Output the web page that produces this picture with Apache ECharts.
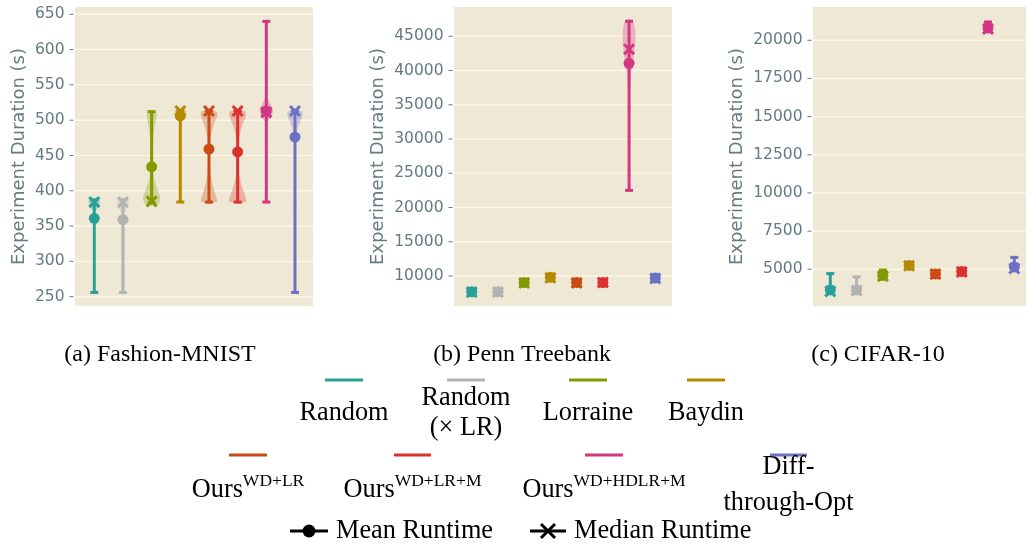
<!DOCTYPE html>
<html><head><meta charset="utf-8">
<script src="https://cdn.jsdelivr.net/npm/echarts@6/dist/echarts.min.js"></script>
<style>html,body{margin:0;padding:0;background:#fff}#c{width:1026px;height:544px}</style>
</head><body><div id="c"></div>
<script>
// ---------- data ----------
const methods = ['Random', 'Random (× LR)', 'Lorraine', 'Baydin', 'Ours WD+LR', 'Ours WD+LR+M', 'Ours WD+HDLR+M', 'Diff-through-Opt'];
const colors = ['#2aa198', '#b3b3b3', '#859900', '#b58900', '#cb4b16', '#dc322f', '#d33682', '#6c71c4'];

// (a) Fashion-MNIST
const fmnistMin    = [256, 256, 383, 384, 384, 384, 384, 256];
const fmnistMax    = [387, 387, 512, 513, 513, 513, 640, 513];
const fmnistMean   = [361, 359, 434, 506, 459, 455, 513, 476];
const fmnistMedian = [384, 384, 385, 513, 513, 513, 511, 513];
const fmnistTicks  = [250, 300, 350, 400, 450, 500, 550, 600, 650];
// violin outlines: [value, half-width in category units]
const fmnistViolin = [
  [[368, 0], [374, 0.1], [380, 0.18], [385, 0.2], [388, 0.16], [390, 0]],
  [[363, 0], [370, 0.08], [378, 0.17], [385, 0.2], [388, 0.16], [390, 0]],
  [[378, 0], [382, 0.25], [390, 0.3], [400, 0.22], [415, 0.1], [430, 0.04], [450, 0.03], [470, 0.05], [490, 0.1], [505, 0.17], [512, 0.15], [515, 0]],
  [[490, 0], [498, 0.06], [505, 0.18], [511, 0.22], [515, 0.15], [517, 0]],
  [[381, 0], [385, 0.28], [395, 0.22], [410, 0.12], [425, 0.05], [445, 0.03], [465, 0.03], [480, 0.08], [495, 0.18], [505, 0.28], [512, 0.28], [516, 0]],
  [[381, 0], [385, 0.3], [395, 0.24], [410, 0.12], [425, 0.05], [445, 0.03], [465, 0.03], [480, 0.08], [495, 0.18], [505, 0.28], [512, 0.28], [516, 0]],
  [[495, 0], [500, 0.08], [508, 0.2], [515, 0.24], [525, 0.12], [535, 0]],
  [[256, 0], [300, 0.01], [360, 0.02], [380, 0.05], [400, 0.02], [440, 0.02], [470, 0.03], [485, 0.07], [495, 0.15], [505, 0.25], [512, 0.26], [516, 0]]
];

// (b) Penn Treebank
const ptbMin    = [7500, 7500, 8850, 9550, 8850, 8900, 22500, 9500];
const ptbMax    = [7850, 7850, 9200, 10050, 9250, 9200, 47200, 9900];
const ptbMean   = [7700, 7700, 9050, 9800, 9050, 9050, 41050, 9700];
const ptbMedian = [7650, 7650, 9000, 9750, 9000, 9050, 43100, 9650];
const ptbTicks  = [10000, 15000, 20000, 25000, 30000, 35000, 40000, 45000];
const ptbViolin = [[], [], [], [], [], [],
  [[35000, 0], [37500, 0.03], [39500, 0.07], [41000, 0.14], [42500, 0.2], [44000, 0.24], [45500, 0.24], [47000, 0.18], [47600, 0]],
  []];

// (c) CIFAR-10
const cifarMin    = [3500, 3500, 4450, 5150, 4600, 4750, 20600, 4950];
const cifarMax    = [4720, 4500, 4950, 5350, 4800, 4950, 21200, 5780];
const cifarMean   = [3650, 3650, 4600, 5250, 4700, 4850, 20800, 5150];
const cifarMedian = [3550, 3600, 4550, 5230, 4680, 4830, 20750, 5050];
const cifarTicks  = [5000, 7500, 10000, 12500, 15000, 17500, 20000];
const cifarViolin = [[], [], [], [], [], [], [], []];

// ---------- layout ----------
const panels = [
  { min: fmnistMin, max: fmnistMax, mean: fmnistMean, med: fmnistMedian, ticks: fmnistTicks, violin: fmnistViolin,
    grid: { left: 75, top: 7, width: 238, height: 299 }, x: [-0.673, 7.628], y: [236.8, 660.3], nameGap: 45 },
  { min: ptbMin, max: ptbMax, mean: ptbMean, med: ptbMedian, ticks: ptbTicks, violin: ptbViolin,
    grid: { left: 454, top: 7, width: 218, height: 299 }, x: [-0.675, 7.637], y: [5620, 49278], nameGap: 65 },
  { min: cifarMin, max: cifarMax, mean: cifarMean, med: cifarMedian, ticks: cifarTicks, violin: cifarViolin,
    grid: { left: 813, top: 7, width: 213, height: 299 }, x: [-0.658, 7.445], y: [2596, 22181], nameGap: 65 }
];

const axisColor = '#657b83';

function makeRender(panel) {
  return function (params, api) {
    const i = api.value(0);
    const mn = api.value(1), mx = api.value(2), mean = api.value(3), med = api.value(4);
    const col = colors[i];
    const s = api.size([1, 0])[0];
    const children = [];
    const prof = panel.violin[i];
    if (prof && prof.length) {
      const left = [], right = [];
      prof.forEach(function (pw) {
        const p = api.coord([i, pw[0]]);
        left.push([p[0] - pw[1] * s, p[1]]);
        right.push([p[0] + pw[1] * s, p[1]]);
      });
      children.push({ type: 'polygon', shape: { points: left.concat(right.reverse()), smooth: 0.2 },
        style: { fill: col, opacity: 0.3 } });
    }
    const top = api.coord([i, mx]), bot = api.coord([i, mn]);
    const cx = top[0];
    children.push({ type: 'line', shape: { x1: cx, y1: top[1], x2: cx, y2: bot[1] }, style: { stroke: col, lineWidth: 3 } });
    [top[1], bot[1]].forEach(function (yy) {
      children.push({ type: 'line', shape: { x1: cx - 4, y1: yy, x2: cx + 4, y2: yy }, style: { stroke: col, lineWidth: 3 } });
    });
    const pm = api.coord([i, mean]);
    children.push({ type: 'circle', shape: { cx: cx, cy: pm[1], r: 5.5 }, style: { fill: col } });
    const pd = api.coord([i, med]);
    const h = 5;
    children.push({ type: 'line', shape: { x1: cx - h, y1: pd[1] - h, x2: cx + h, y2: pd[1] + h }, style: { stroke: col, lineWidth: 3 } });
    children.push({ type: 'line', shape: { x1: cx - h, y1: pd[1] + h, x2: cx + h, y2: pd[1] - h }, style: { stroke: col, lineWidth: 3 } });
    return { type: 'group', children: children };
  };
}

function gridLineRender(params, api) {
  const cs = params.coordSys;
  const y = api.coord([0, api.value(0)])[1];
  return { type: 'group', children: [
    { type: 'line', shape: { x1: cs.x, y1: y, x2: cs.x + cs.width, y2: y }, style: { stroke: '#fbf6e6', lineWidth: 1.5 } },
    { type: 'line', shape: { x1: cs.x - 5.5, y1: y, x2: cs.x - 1.5, y2: y }, style: { stroke: axisColor, lineWidth: 1 } }
  ] };
}

const grids = [], xAxes = [], yAxes = [], series = [];
panels.forEach(function (p, k) {
  grids.push(Object.assign({ show: true, backgroundColor: '#eee8d5', borderWidth: 0 }, p.grid));
  xAxes.push({ gridIndex: k, type: 'value', min: p.x[0], max: p.x[1], show: false });
  yAxes.push({
    gridIndex: k, type: 'value', min: p.y[0], max: p.y[1], offset: 1.5,
    axisLine: { show: false },
    axisTick: { show: false },
    axisLabel: { customValues: p.ticks, color: axisColor, fontSize: 15.5, fontFamily: 'DejaVu Sans', margin: 9,
      formatter: function (v) { return String(v); } },
    splitLine: { show: false },
    name: 'Experiment Duration (s)', nameLocation: 'middle', nameGap: p.nameGap,
    nameTextStyle: { color: axisColor, fontSize: 18, fontFamily: 'DejaVu Sans' }
  });
  series.push({ type: 'custom', xAxisIndex: k, yAxisIndex: k, z: 1, silent: true, clip: false,
    data: p.ticks.map(function (t) { return [t]; }), renderItem: gridLineRender });
  series.push({ type: 'custom', xAxisIndex: k, yAxisIndex: k, z: 2, silent: true, clip: false,
    data: methods.map(function (m, i) { return [i, p.min[i], p.max[i], p.mean[i], p.med[i]]; }),
    renderItem: makeRender(p) });
});

// ---------- captions & legend ----------
const serif = 'Liberation Serif';
const captions = ['(a) Fashion-MNIST', '(b) Penn Treebank', '(c) CIFAR-10'];
const captionX = [160, 522, 878];
const legendLabels = ['Random', 'Random\n(× LR)', 'Lorraine', 'Baydin', null, null, null, 'Diff-\nthrough-Opt'];
const legendSup = [null, null, null, null, 'WD+LR', 'WD+LR+M', 'WD+HDLR+M', null];
const legendLineX = [[325, 363], [447, 485], [569, 607], [687, 725], [229, 267], [394, 431], [585, 623], [770, 807]];
const LF = 26.3;

const graphic = [];
captions.forEach(function (c, i) {
  graphic.push({ type: 'text', x: captionX[i], y: 355, style: { text: c, fontFamily: serif, fontSize: 24, fill: '#000', align: 'center', verticalAlign: 'middle' } });
});
methods.forEach(function (m, i) {
  const row = i < 4 ? 0 : 1;
  const ly = row === 0 ? 380 : 455;
  const lx = legendLineX[i];
  const cx = (lx[0] + lx[1]) / 2;
  graphic.push({ type: 'line', shape: { x1: lx[0], y1: ly, x2: lx[1], y2: ly }, style: { stroke: colors[i], lineWidth: 3 } });
  if (legendSup[i]) {
    graphic.push({ type: 'text', x: cx, y: 488, style: {
      text: '{b|Ours}{s|' + legendSup[i] + '}', align: 'center', verticalAlign: 'middle', fill: '#000',
      rich: {
        b: { fontSize: LF, fontFamily: serif, lineHeight: 31, verticalAlign: 'bottom', fill: '#000' },
        s: { fontSize: 17.5, fontFamily: serif, lineHeight: 14, verticalAlign: 'top', fill: '#000' }
      } } });
  } else {
    graphic.push({ type: 'text', x: cx, y: row === 0 ? 413 : 485, style: {
      text: legendLabels[i], fontFamily: serif, fontSize: LF, lineHeight: row === 0 ? 30 : 36,
      fill: '#000', align: 'center', verticalAlign: 'middle' } });
  }
});
// mean / median legend
graphic.push({ type: 'line', shape: { x1: 290, y1: 531, x2: 328, y2: 531 }, style: { stroke: '#000', lineWidth: 3 } });
graphic.push({ type: 'circle', shape: { cx: 309, cy: 531, r: 6.5 }, style: { fill: '#000' } });
graphic.push({ type: 'text', x: 336, y: 531, style: { text: 'Mean Runtime', fontFamily: serif, fontSize: LF, fill: '#000', align: 'left', verticalAlign: 'middle' } });
graphic.push({ type: 'line', shape: { x1: 530, y1: 531, x2: 566, y2: 531 }, style: { stroke: '#000', lineWidth: 3 } });
graphic.push({ type: 'line', shape: { x1: 541, y1: 524, x2: 555, y2: 538 }, style: { stroke: '#000', lineWidth: 3 } });
graphic.push({ type: 'line', shape: { x1: 541, y1: 538, x2: 555, y2: 524 }, style: { stroke: '#000', lineWidth: 3 } });
graphic.push({ type: 'text', x: 574, y: 531, style: { text: 'Median Runtime', fontFamily: serif, fontSize: LF, fill: '#000', align: 'left', verticalAlign: 'middle' } });

const chart = echarts.init(document.getElementById('c'), null, { renderer: 'canvas' });
chart.setOption({
  animation: false,
  backgroundColor: '#fff',
  grid: grids, xAxis: xAxes, yAxis: yAxes, series: series, graphic: graphic
});
</script></body></html>
